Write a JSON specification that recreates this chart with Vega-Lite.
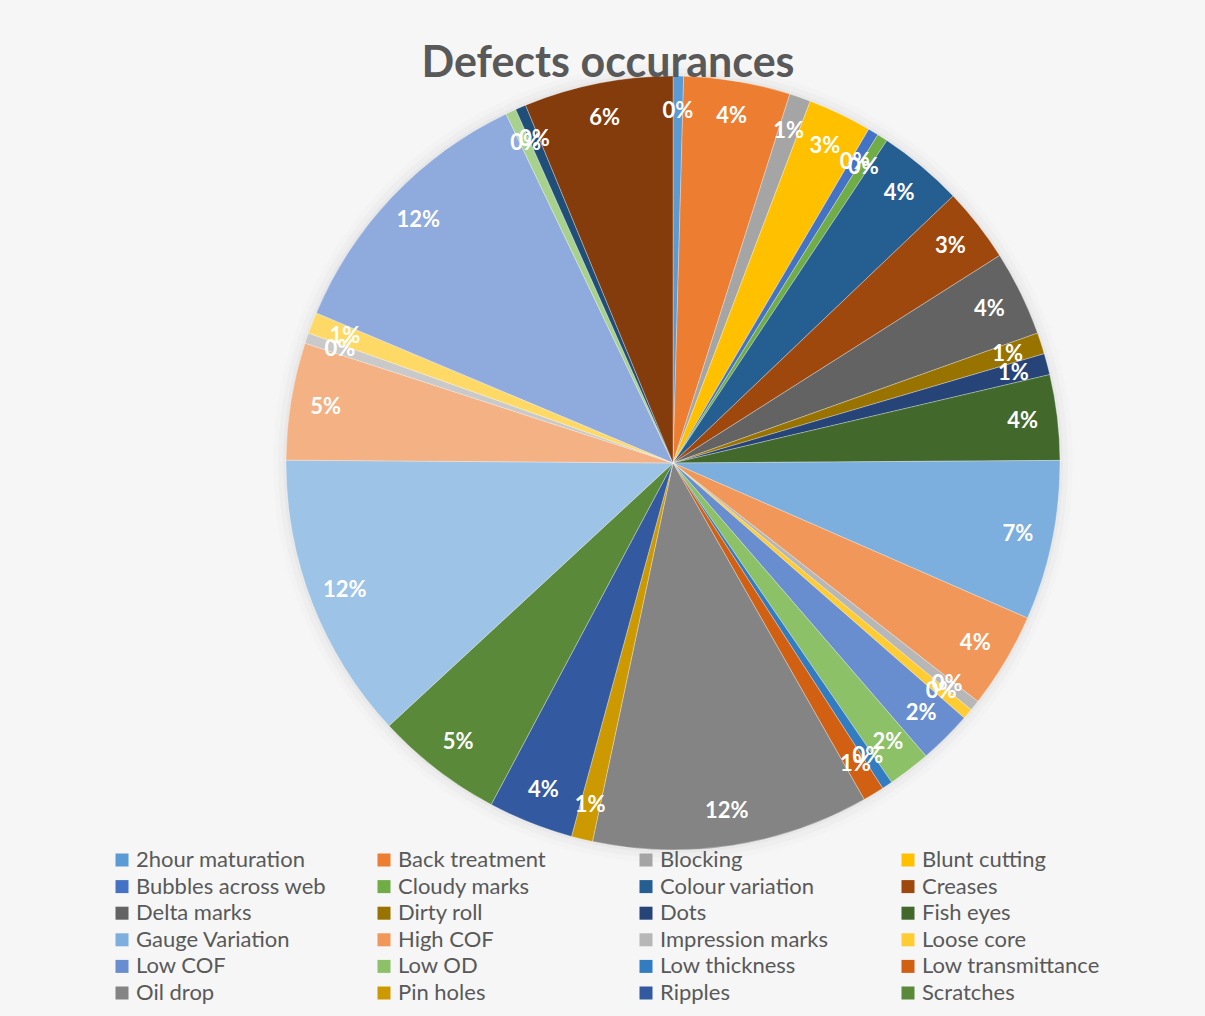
{
  "$schema": "https://vega.github.io/schema/vega-lite/v6.json",
  "width": 774,
  "height": 774,
  "autosize": {"type": "none"},
  "padding": {"left": 286, "top": 76, "right": 145, "bottom": 166},
  "background": "#f6f6f6",
  "title": {
    "text": "Defects occurances",
    "font": "Lato",
    "fontSize": 43,
    "fontWeight": "bold",
    "color": "#595959",
    "anchor": "middle",
    "dx": -65,
    "dy": 25,
    "offset": 2
  },
  "data": {
    "values": [
      {"idx": 1, "defect": "2hour maturation", "share": 0.0044},
      {"idx": 2, "defect": "Back treatment", "share": 0.0444},
      {"idx": 3, "defect": "Blocking", "share": 0.0089},
      {"idx": 4, "defect": "Blunt cutting", "share": 0.0267},
      {"idx": 5, "defect": "Bubbles across web", "share": 0.0044},
      {"idx": 6, "defect": "Cloudy marks", "share": 0.0044},
      {"idx": 7, "defect": "Colour variation", "share": 0.0356},
      {"idx": 8, "defect": "Creases", "share": 0.0311},
      {"idx": 9, "defect": "Delta marks", "share": 0.0356},
      {"idx": 10, "defect": "Dirty roll", "share": 0.0089},
      {"idx": 11, "defect": "Dots", "share": 0.0089},
      {"idx": 12, "defect": "Fish eyes", "share": 0.0356},
      {"idx": 13, "defect": "Gauge Variation", "share": 0.0667},
      {"idx": 14, "defect": "High COF", "share": 0.04},
      {"idx": 15, "defect": "Impression marks", "share": 0.0044},
      {"idx": 16, "defect": "Loose core", "share": 0.0044},
      {"idx": 17, "defect": "Low COF", "share": 0.0222},
      {"idx": 18, "defect": "Low OD", "share": 0.0178},
      {"idx": 19, "defect": "Low thickness", "share": 0.0044},
      {"idx": 20, "defect": "Low transmittance", "share": 0.0089},
      {"idx": 21, "defect": "Oil drop", "share": 0.1156},
      {"idx": 22, "defect": "Pin holes", "share": 0.0089},
      {"idx": 23, "defect": "Ripples", "share": 0.0356},
      {"idx": 24, "defect": "Scratches", "share": 0.0533},
      {"idx": 25, "defect": "Shrinkage", "share": 0.12},
      {"idx": 26, "defect": "Slip", "share": 0.0489},
      {"idx": 27, "defect": "Streaks", "share": 0.0044},
      {"idx": 28, "defect": "Surface damage", "share": 0.0089},
      {"idx": 29, "defect": "Telescoping", "share": 0.1156},
      {"idx": 30, "defect": "Uneven winding", "share": 0.0044},
      {"idx": 31, "defect": "Wavy edges", "share": 0.0044},
      {"idx": 32, "defect": "Wrinkles", "share": 0.0622}
    ]
  },
  "encoding": {
    "theta": {"field": "share", "type": "quantitative", "stack": true},
    "order": {"field": "idx", "type": "quantitative"}
  },
  "layer": [
    {
      "mark": {"type": "arc", "outerRadius": 400, "fill": "#000000", "fillOpacity": 0.012, "stroke": null}
    },
    {
      "mark": {"type": "arc", "outerRadius": 395, "fill": "#000000", "fillOpacity": 0.018, "stroke": null}
    },
    {
      "mark": {"type": "arc", "outerRadius": 390, "fill": "#000000", "fillOpacity": 0.025, "stroke": null}
    },
    {
      "mark": {"type": "arc", "outerRadius": 387, "stroke": "#ffffff", "strokeWidth": 0.5, "strokeOpacity": 0.6},
      "encoding": {
        "color": {
          "field": "defect",
          "type": "nominal",
          "scale": {
            "domain": [
              "2hour maturation", "Back treatment", "Blocking", "Blunt cutting",
              "Bubbles across web", "Cloudy marks", "Colour variation", "Creases",
              "Delta marks", "Dirty roll", "Dots", "Fish eyes",
              "Gauge Variation", "High COF", "Impression marks", "Loose core",
              "Low COF", "Low OD", "Low thickness", "Low transmittance",
              "Oil drop", "Pin holes", "Ripples", "Scratches",
              "Shrinkage", "Slip", "Streaks", "Surface damage",
              "Telescoping", "Uneven winding", "Wavy edges", "Wrinkles"
            ],
            "range": [
              "#5B9BD5", "#ED7D31", "#A5A5A5", "#FFC000",
              "#4472C4", "#70AD47", "#255E91", "#9E480E",
              "#636363", "#997300", "#264478", "#43682B",
              "#7CAFDD", "#F1975A", "#B7B7B7", "#FFCD33",
              "#698ED0", "#8CC168", "#327DC2", "#D26012",
              "#848484", "#CC9A00", "#335AA1", "#5A8A39",
              "#9DC3E6", "#F4B183", "#C9C9C9", "#FFD966",
              "#8FAADC", "#A9D18E", "#1F4E79", "#843C0C"
            ]
          },
          "legend": {
            "title": null,
            "orient": "none",
            "legendX": -175,
            "legendY": 773,
            "direction": "horizontal",
            "columns": 4,
            "gridAlign": "all",
            "columnPadding": 46,
            "rowPadding": 4.6,
            "padding": 0,
            "symbolType": "square",
            "symbolSize": 169,
            "symbolStrokeWidth": 0,
            "symbolOpacity": 1,
            "labelFont": "Lato",
            "labelFontSize": 22,
            "labelColor": "#595959",
            "labelOffset": 3,
            "labelLimit": 400,
            "values": [
              "2hour maturation", "Back treatment", "Blocking", "Blunt cutting",
              "Bubbles across web", "Cloudy marks", "Colour variation", "Creases",
              "Delta marks", "Dirty roll", "Dots", "Fish eyes",
              "Gauge Variation", "High COF", "Impression marks", "Loose core",
              "Low COF", "Low OD", "Low thickness", "Low transmittance",
              "Oil drop", "Pin holes", "Ripples", "Scratches"
            ]
          }
        }
      }
    },
    {
      "mark": {
        "type": "text",
        "radius": 352,
        "font": "Lato",
        "fontSize": 22,
        "fontWeight": "bold",
        "fill": "#ffffff",
        "align": "center",
        "baseline": "middle"
      },
      "encoding": {
        "text": {"field": "share", "type": "quantitative", "format": ".0%"}
      }
    }
  ],
  "config": {
    "view": {"stroke": null},
    "font": "Lato"
  }
}
